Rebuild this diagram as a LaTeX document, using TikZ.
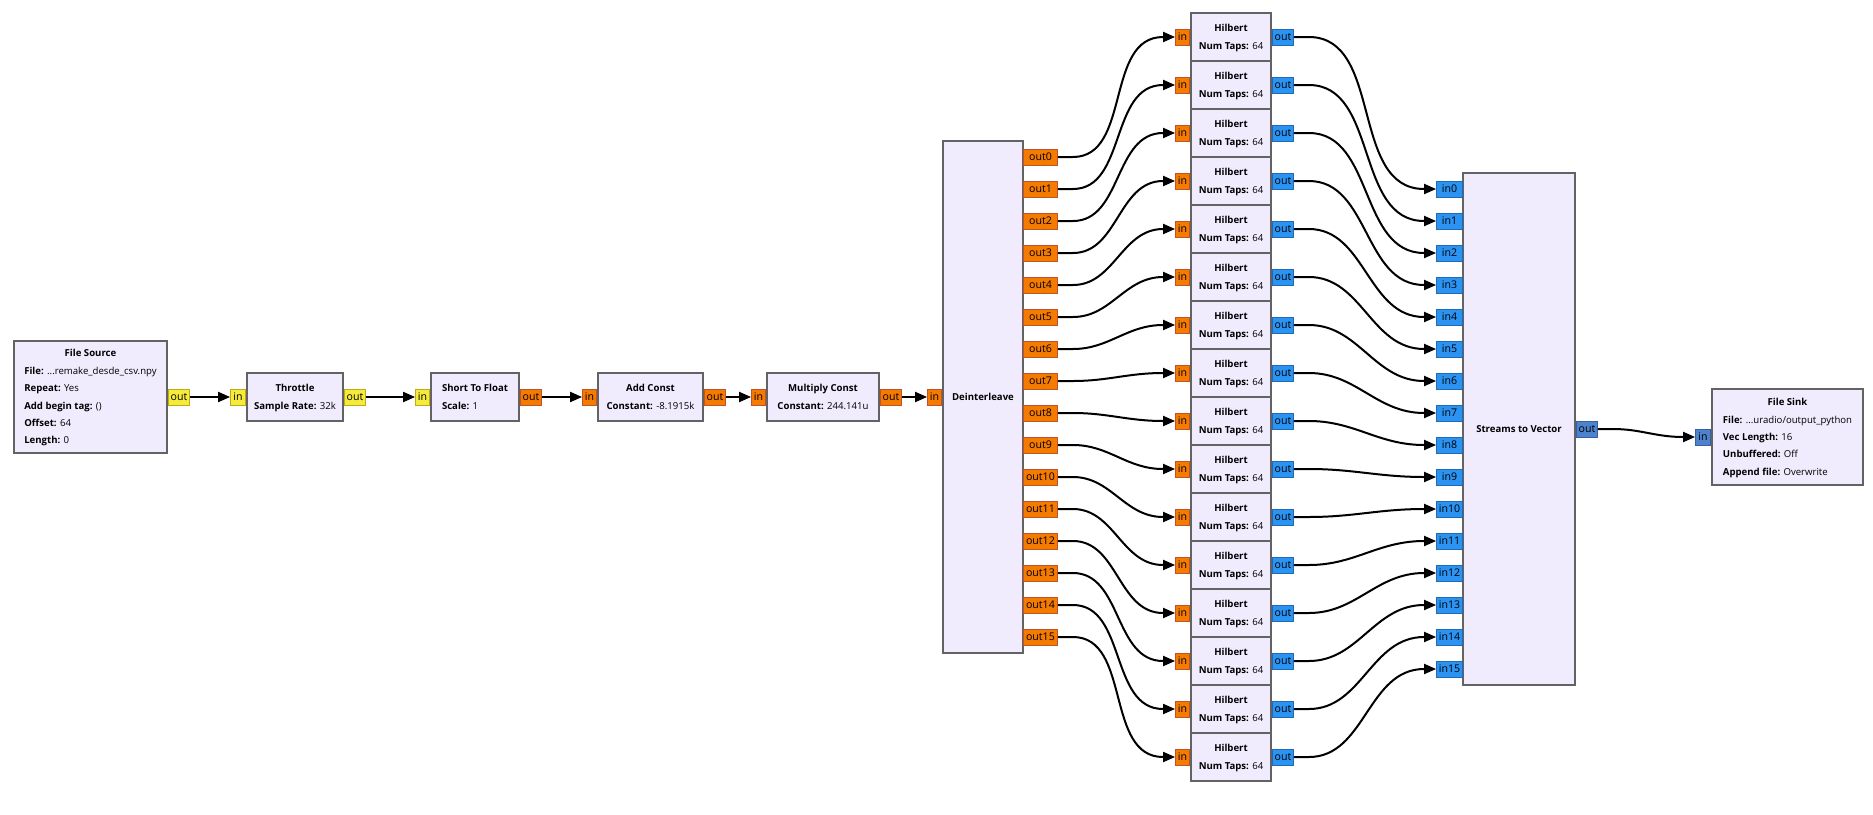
\documentclass[tikz,border=0pt]{standalone}
\usepackage{fontspec}
\setmainfont{Open Sans}
\usetikzlibrary{arrows.meta}

\definecolor{blockfill}{HTML}{F0ECFE}
\definecolor{blockline}{HTML}{636363}
\definecolor{shortfill}{HTML}{F5EB3B}
\definecolor{shortline}{HTML}{C2A81C}
\definecolor{floatfill}{HTML}{F57A00}
\definecolor{floatline}{HTML}{C0532A}
\definecolor{cplxfill}{HTML}{2B93F2}
\definecolor{cplxline}{HTML}{2169B8}
\definecolor{vecfill}{HTML}{4D83CC}
\definecolor{vecline}{HTML}{3A5FA0}

% block text: bold title, then left aligned parameters
\newcommand{\blocktext}[2]{{\renewcommand{\arraystretch}{1.45}%
  \begin{tabular}{@{}l@{}}\multicolumn{1}{@{}c@{}}{\textbf{#1}}\\ #2\end{tabular}}}
\newcommand{\prm}[2]{\textbf{#1:} #2}

\begin{document}
\begin{tikzpicture}[x=1pt, y=-1pt,
  font=\fontsize{9.6}{12}\selectfont,
  block/.style={draw=blockline, line width=2pt, fill=blockfill, inner sep=0pt,
    align=center},
  port/.style={line width=0.9pt, inner sep=0pt, minimum height=16pt,
    font=\fontsize{10.6}{12}\selectfont},
  shortport/.style={port, fill=shortfill, draw=shortline},
  floatport/.style={port, fill=floatfill, draw=floatline},
  cplxport/.style={port, fill=cplxfill, draw=cplxline},
  vecport/.style={port, fill=vecfill, draw=vecline},
  wire/.style={draw, line width=2pt, -{Triangle[length=12pt, width=10pt]}}
]
  \useasboundingbox (0,0) rectangle (1873,814);

  % main chain
  \node[block, minimum width=153, minimum height=112] (src) at (90.5,397)
    {\blocktext{File Source}{\prm{File}{...remake\_desde\_csv.npy}\\
      \prm{Repeat}{Yes}\\ \prm{Add begin tag}{()}\\ \prm{Offset}{64}\\
      \prm{Length}{0}}};
  \node[block, minimum width=96, minimum height=48] (thr) at (295,397)
    {\blocktext{Throttle}{\prm{Sample Rate}{32k}}};
  \node[block, minimum width=88, minimum height=48] (s2f) at (475,397)
    {\blocktext{Short To Float}{\prm{Scale}{1}}};
  \node[block, minimum width=105, minimum height=48] (add) at (650.5,397)
    {\blocktext{Add Const}{\prm{Constant}{-8.1915k}}};
  \node[block, minimum width=112, minimum height=48] (mul) at (823,397)
    {\blocktext{Multiply Const}{\prm{Constant}{244.141u}}};
  \node[block, minimum width=80, minimum height=512] (dei) at (983,397)
    {\textbf{Deinterleave}};
  \node[block, minimum width=112, minimum height=512] (s2v) at (1519,429)
    {\textbf{Streams to Vector}};
  \node[block, minimum width=151, minimum height=96] (snk) at (1787.5,437)
    {\blocktext{File Sink}{\prm{File}{...uradio/output\_python}\\
      \prm{Vec Length}{16}\\ \prm{Unbuffered}{Off}\\
      \prm{Append file}{Overwrite}}};

  % ports of the chain
  \node[shortport, minimum width=21, anchor=west] (src-out) at (src.east) {out};
  \node[shortport, minimum width=15, anchor=east] (thr-in) at (thr.west) {in};
  \node[shortport, minimum width=21, anchor=west] (thr-out) at (thr.east) {out};
  \node[shortport, minimum width=14, anchor=east] (s2f-in) at (s2f.west) {in};
  \node[floatport, minimum width=21, anchor=west] (s2f-out) at (s2f.east) {out};
  \node[floatport, minimum width=14, anchor=east] (add-in) at (add.west) {in};
  \node[floatport, minimum width=21, anchor=west] (add-out) at (add.east) {out};
  \node[floatport, minimum width=14, anchor=east] (mul-in) at (mul.west) {in};
  \node[floatport, minimum width=21, anchor=west] (mul-out) at (mul.east) {out};
  \node[floatport, minimum width=14, anchor=east] (dei-in) at (dei.west) {in};
  \node[vecport, minimum width=21, anchor=west] (s2v-out) at (s2v.east) {out};
  \node[vecport, minimum width=15, anchor=east] (snk-in) at (snk.west) {in};

  % hilbert bank
  \foreach \k in {0,...,15} {
    \node[block, minimum width=80, minimum height=48] (hil\k) at (1231,37+48*\k)
      {\blocktext{Hilbert}{\prm{Num Taps}{64}}};
    \node[floatport, minimum width=14, anchor=east] (hil\k-in) at (hil\k.west) {in};
    \node[cplxport, minimum width=21, anchor=west] (hil\k-out) at (hil\k.east) {out};
    \node[floatport, minimum width=34, anchor=west] (dei-out\k) at (1023,157+32*\k) {out\k};
    \node[cplxport, minimum width=26, anchor=east] (s2v-in\k) at (1463,189+32*\k) {in\k};
  }

  \path[wire] (src-out.east) -- (thr-in.west);
  \path[wire] (thr-out.east) -- (s2f-in.west);
  \path[wire] (s2f-out.east) -- (add-in.west);
  \path[wire] (add-out.east) -- (mul-in.west);
  \path[wire] (mul-out.east) -- (dei-in.west);
  \foreach \k in {0,...,15} {
    \path[wire] (dei-out\k.east) -- ++(15,0) to[out=0, in=180]
      ([xshift=-12pt]hil\k-in.west) -- (hil\k-in.west);
    \path[wire] (hil\k-out.east) -- ++(15,0) to[out=0, in=180]
      ([xshift=-12pt]s2v-in\k.west) -- (s2v-in\k.west);
  }
  \path[wire] (s2v-out.east) -- ++(15,0) to[out=0, in=180]
    ([xshift=-12pt]snk-in.west) -- (snk-in.west);
\end{tikzpicture}
\end{document}
